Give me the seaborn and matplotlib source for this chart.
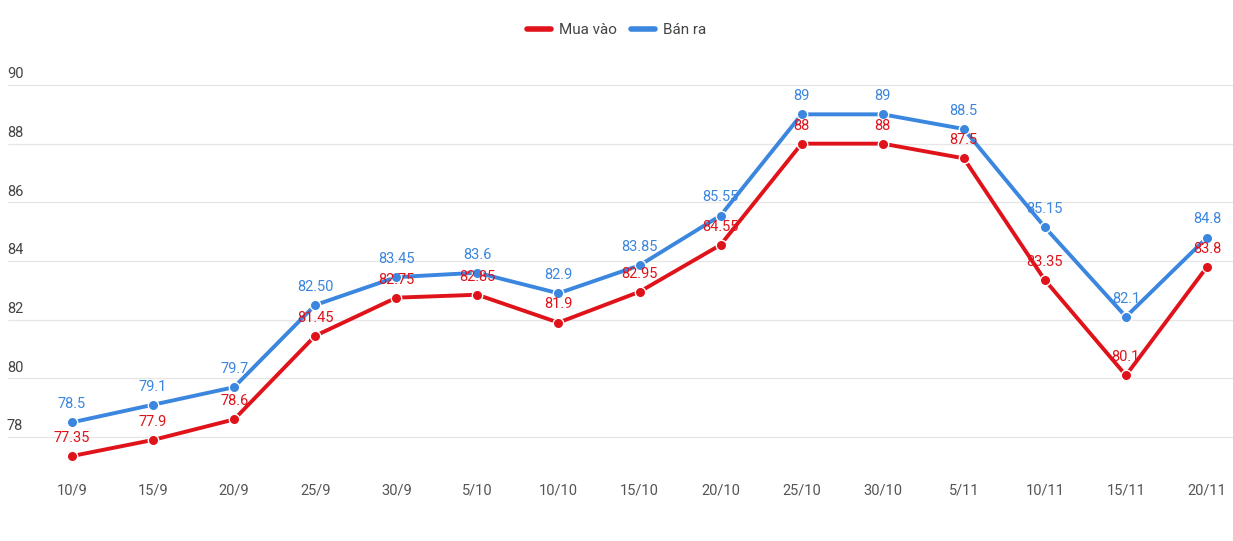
import matplotlib.pyplot as plt
import matplotlib.transforms as mtransforms
import numpy as np
import pandas as pd
import seaborn as sns

dates = ['10/9', '15/9', '20/9', '25/9', '30/9', '5/10', '10/10', '15/10',
         '20/10', '25/10', '30/10', '5/11', '10/11', '15/11', '20/11']
buy = [77.35, 77.9, 78.6, 81.45, 82.75, 82.85, 81.9, 82.95,
       84.55, 88, 88, 87.5, 83.35, 80.1, 83.8]
sell = [78.5, 79.1, 79.7, 82.50, 83.45, 83.6, 82.9, 83.85,
        85.55, 89, 89, 88.5, 85.15, 82.1, 84.8]
buy_labels = ['77.35', '77.9', '78.6', '81.45', '82.75', '82.85', '81.9', '82.95',
              '84.55', '88', '88', '87.5', '83.35', '80.1', '83.8']
sell_labels = ['78.5', '79.1', '79.7', '82.50', '83.45', '83.6', '82.9', '83.85',
               '85.55', '89', '89', '88.5', '85.15', '82.1', '84.8']
y_ticks = [78, 80, 82, 84, 86, 88, 90]

RED = '#E0131B'
BLUE = '#3B86DE'

sns.set_style('white')
plt.rcParams['font.family'] = ['Roboto', 'DejaVu Sans']

df = pd.DataFrame({
    'x': list(range(len(dates))) * 2,
    'value': buy + sell,
    'series': ['Mua vào'] * len(dates) + ['Bán ra'] * len(dates),
})

fig = plt.figure(figsize=(12.33, 5.41), dpi=100)
W, H = 1233, 541
# axes spans pixels x 8..1233, y 60..470
ax = fig.add_axes([8 / W, 1 - 470 / H, (W - 8) / W, (470 - 60) / H])

sns.lineplot(data=df, x='x', y='value', hue='series',
             palette={'Mua vào': RED, 'Bán ra': BLUE},
             hue_order=['Mua vào', 'Bán ra'],
             marker='o', markersize=7.5, markeredgecolor='white',
             markeredgewidth=1.0, linewidth=2.8, ax=ax, legend=True)

# scale: index 0 -> px 72, index 14 -> px 1207
px_per_x = (1207 - 72) / 14
ax.set_xlim((8 - 72) / px_per_x, (W - 72) / px_per_x)
px_per_y = (437 - 85) / 12
ax.set_ylim(78 - (470 - 437) / px_per_y, 90 + (85 - 60) / px_per_y)

for y in y_ticks:
    ax.axhline(y, color='#e6e6e6', linewidth=0.9, zorder=0)
ax.set_yticks([])
trans = mtransforms.blended_transform_factory(ax.transAxes, ax.transData)
for y in y_ticks:
    ax.text(-0.001, y + 0.12, str(y), transform=trans, ha='left', va='bottom',
            fontsize=10.5, color='#444444')

ax.set_xticks(range(len(dates)))
ax.set_xticklabels(dates, fontsize=10.5, color='#555555')
ax.tick_params(axis='x', length=0, pad=10)
ax.set_xlabel('')
ax.set_ylabel('')
for s in ax.spines.values():
    s.set_visible(False)

for i, (v, lab) in enumerate(zip(sell, sell_labels)):
    ax.annotate(lab, (i, v), xytext=(0, 8), textcoords='offset points',
                ha='center', va='bottom', fontsize=10.5, color=BLUE)
for i, (v, lab) in enumerate(zip(buy, buy_labels)):
    ax.annotate(lab, (i, v), xytext=(0, 8), textcoords='offset points',
                ha='center', va='bottom', fontsize=10.5, color=RED)

leg = ax.legend(loc='center', bbox_to_anchor=(0.5, 1 - 30 / H),
                bbox_transform=fig.transFigure, ncol=2, frameon=False,
                fontsize=11, handlelength=1.6, columnspacing=0.9,
                handletextpad=0.5)
for h in leg.legend_handles:
    h.set_marker('')
    h.set_linewidth(4)
for t in leg.get_texts():
    t.set_color('#444444')

fig.savefig('out.png', dpi=100)
